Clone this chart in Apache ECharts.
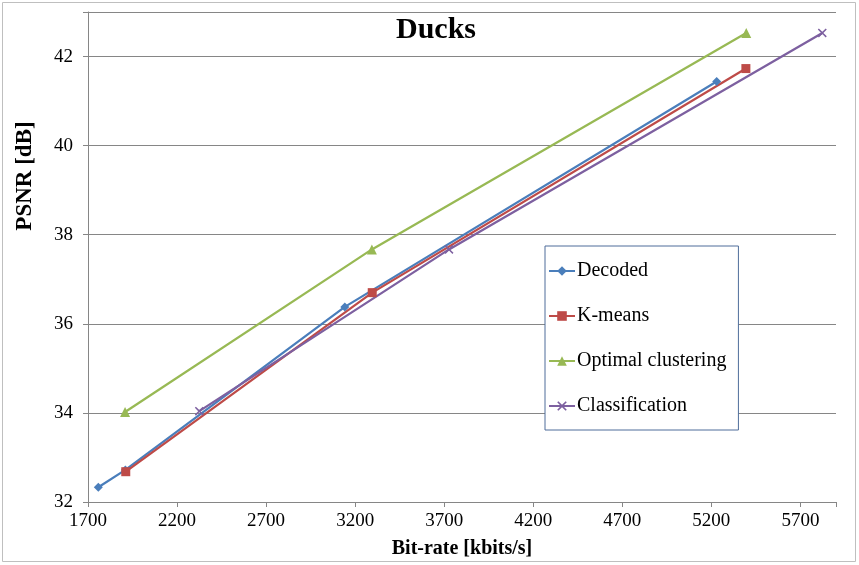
<!DOCTYPE html>
<html>
<head>
<meta charset="utf-8">
<script src="https://cdn.jsdelivr.net/npm/echarts@6/dist/echarts.min.js"></script>
<style>
  html, body { margin: 0; padding: 0; background: #fff; }
  #chart { width: 859px; height: 565px; }
</style>
</head>
<body>
<div id="chart"></div>
<script>
// Rate–distortion points: [bit-rate kbits/s, PSNR dB]
const decoded = [[1758, 32.33], [1910, 32.72], [3142, 36.38], [5230, 41.44]];
const kmeans = [[1912, 32.68], [3296, 36.70], [5394, 41.73]];
const optimalClustering = [[1908, 34.02], [3294, 37.67], [5396, 42.53]];
const classification = [[2325, 34.04], [3727, 37.67], [5823, 42.53]];

const seriesNames = ['Decoded', 'K-means', 'Optimal clustering', 'Classification'];
const seriesColors = ['#4a7ebb', '#be4b48', '#98b954', '#7d60a0'];

const FONT = "'Liberation Serif', 'Times New Roman', serif";
const crossPath = 'path://M0,1.2L1.2,0L5,3.8L8.8,0L10,1.2L6.2,5L10,8.8L8.8,10L5,6.2L1.2,10L0,8.8L3.8,5Z';

const chart = echarts.init(document.getElementById('chart'), null, { renderer: 'canvas' });

function lineSeries(name, data, color, symbol, size) {
  return {
    name: name,
    type: 'line',
    data: data,
    symbol: symbol,
    symbolSize: size,
    showSymbol: true,
    lineStyle: { color: color, width: 2.25 },
    itemStyle: { color: color },
    emphasis: { disabled: true },
    z: 3
  };
}

chart.setOption({
  animation: false,
  backgroundColor: '#ffffff',
  title: {
    text: 'Ducks',
    left: 431,
    top: 10,
    textAlign: 'center',
    textStyle: { fontFamily: FONT, fontWeight: 'bold', fontSize: 30, color: '#000' }
  },
  grid: { left: 88, right: 23, top: 12, bottom: 63, containLabel: false },
  legend: {
    orient: 'vertical',
    left: 545,
    top: 246,
    data: seriesNames,
    itemWidth: 26,
    itemHeight: 12,
    itemGap: 25,
    padding: [15, 12, 14, 3],
    borderColor: '#4f6d9a',
    borderWidth: 1,
    backgroundColor: '#fff',
    textStyle: { fontFamily: FONT, fontSize: 20, color: '#000', padding: [0, 0, 0, -3] }
  },
  xAxis: {
    type: 'value',
    min: 1700,
    max: 5900,
    interval: 500,
    name: 'Bit-rate [kbits/s]',
    nameLocation: 'middle',
    nameGap: 37,
    nameTextStyle: { fontFamily: FONT, fontWeight: 'bold', fontSize: 20, color: '#000' },
    axisLine: { show: true, lineStyle: { color: '#868686', width: 1 } },
    axisTick: { show: true, length: 5, lineStyle: { color: '#868686' } },
    axisLabel: { fontFamily: FONT, fontSize: 19, color: '#000', margin: 10,
      formatter: v => (v <= 5700 ? String(v) : '') },
    splitLine: { show: false }
  },
  yAxis: {
    type: 'value',
    min: 32,
    max: 43,
    interval: 2,
    axisLine: { show: true, lineStyle: { color: '#868686', width: 1 } },
    axisTick: { show: true, length: 5, lineStyle: { color: '#868686' } },
    axisLabel: { fontFamily: FONT, fontSize: 19, color: '#000', margin: 15,
      formatter: v => (v <= 42 ? String(v) : '') },
    splitLine: { show: true, lineStyle: { color: '#868686', width: 1 } }
  },
  graphic: [
    {
      type: 'rect',
      shape: { x: 2.5, y: 2.5, width: 853, height: 559 },
      style: { fill: 'none', stroke: '#bfbfbf', lineWidth: 1 },
      silent: true,
      z: -1
    },
    {
      type: 'text',
      x: 25,
      y: 176,
      rotation: Math.PI / 2,
      style: {
        text: 'PSNR [dB]',
        font: 'bold 23px ' + FONT,
        fill: '#000',
        align: 'center',
        verticalAlign: 'middle'
      },
      silent: true
    }
  ],
  series: [
    lineSeries(seriesNames[0], decoded, seriesColors[0], 'diamond', 9),
    lineSeries(seriesNames[1], kmeans, seriesColors[1], 'rect', 9),
    lineSeries(seriesNames[2], optimalClustering, seriesColors[2], 'triangle', 10),
    lineSeries(seriesNames[3], classification, seriesColors[3], crossPath, 9)
  ]
});
</script>
</body>
</html>
